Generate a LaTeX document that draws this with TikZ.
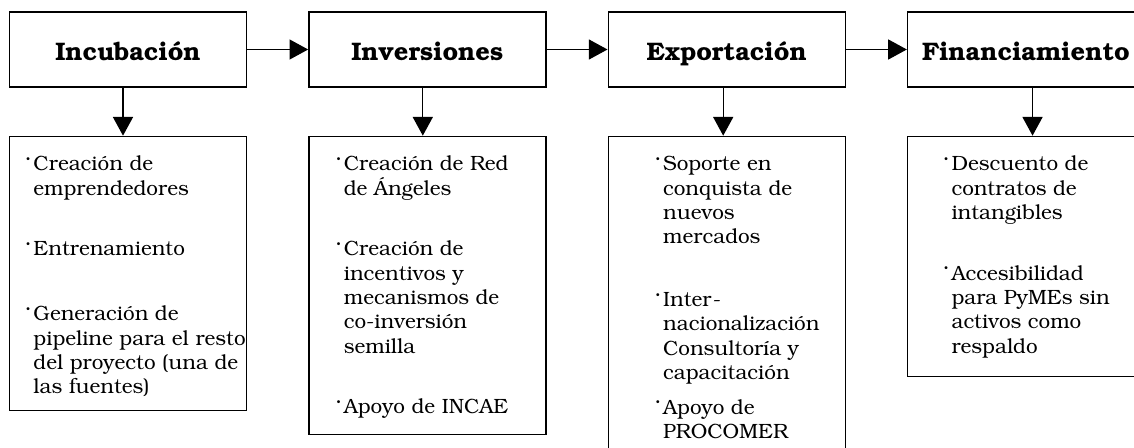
\documentclass[tikz,border=0pt]{standalone}
\usepackage[T1]{fontenc}
\usepackage{bookman}
\usetikzlibrary{positioning,arrows.meta}

\tikzset{
  stage/.style={draw, line width=1pt, inner sep=0pt,
    minimum width=177.75pt, minimum height=56.25pt,
    text height=18pt, text depth=2.2pt,
    font=\fontsize{19}{22}\selectfont\bfseries},
  detail/.style={draw, line width=1pt, inner sep=0pt,
    font=\fontsize{15.5}{18.2}\selectfont},
  flow/.style={-{Triangle[length=14pt,width=15pt]}, line width=1pt}
}

% small raised dot in front of each item
\newcommand{\itemdot}{\leavevmode\llap{\raisebox{.85ex}{\scalebox{.42}{\textbullet}}\hspace{2.5pt}}}
% #1 left pad, #2 box height, #3 lines
\newcommand{\detailtext}[3]{%
  \begin{minipage}[t][#2][t]{177.75pt}
    \raggedright\setlength{\leftskip}{#1}\setlength{\parindent}{0pt}%
    \vspace*{15pt}#3
  \end{minipage}}

\begin{document}
\begin{tikzpicture}[x=0.75pt, y=-0.75pt]
  \clip (0,0) rectangle (1134,448);

  % stages
  \node[stage] (inc) at (128,49.5) {Incubaci\'on};
  \node[stage, right=45.75pt of inc] (inv) {Inversiones};
  \node[stage, right=45.75pt of inv] (exp) {Exportaci\'on};
  \node[stage, right=45.75pt of exp] (fin) {Financiamiento};

  % details
  \node[detail, below=36pt of inc] (incd) {\detailtext{18pt}{205.5pt}{%
    \itemdot Creaci\'on de\\ emprendedores\\[27.5pt]
    \itemdot Entrenamiento\\[30.5pt]
    \itemdot Generaci\'on de\\ pipeline para el resto\\ del proyecto (una de\\ las fuentes)}};
  \node[detail, below=36pt of inv] (invd) {\detailtext{26.25pt}{223.5pt}{%
    \itemdot Creaci\'on de Red\\ de \'Angeles\\[27.5pt]
    \itemdot Creaci\'on de\\ incentivos y\\ mecanismos de\\ co-inversi\'on\\ semilla\\[27.5pt]
    \itemdot Apoyo de INCAE}};
  \node[detail, below=36pt of exp] (expd) {\detailtext{41.25pt}{243.75pt}{%
    \itemdot Soporte en\\ conquista de\\ nuevos\\ mercados\\[29pt]
    \itemdot Inter-\\ nacionalizaci\'on\\ Consultor\'{\i}a y\\ capacitaci\'on\\[8pt]
    \itemdot Apoyo de\\ PROCOMER}};
  \node[detail, below=36pt of fin] (find) {\detailtext{33pt}{180pt}{%
    \itemdot Descuento de\\ contratos de\\ intangibles\\[27.5pt]
    \itemdot Accesibilidad\\ para PyMEs sin\\ activos como\\ respaldo}};

  % connectors
  \draw[flow] (inc) -- (inv);
  \draw[flow] (inv) -- (exp);
  \draw[flow] (exp) -- (fin);
  \draw[flow] ([xshift=-3.75pt]inc.south) -- ([xshift=-3.75pt]incd.north);
  \draw[flow] ([xshift=-3.4pt]inv.south) -- ([xshift=-3.4pt]invd.north);
  \draw[flow] ([xshift=-2.6pt]exp.south) -- ([xshift=-2.6pt]expd.north);
  \draw[flow] ([xshift=4.9pt]fin.south) -- ([xshift=4.9pt]find.north);
\end{tikzpicture}
\end{document}
